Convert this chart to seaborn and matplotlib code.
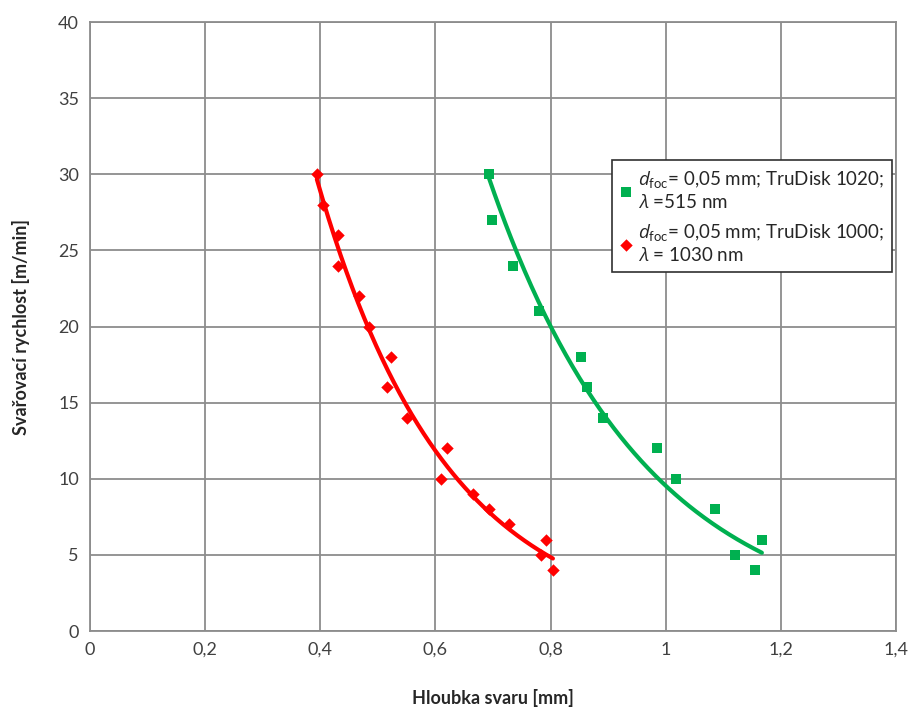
import numpy as np
import pandas as pd
import matplotlib
matplotlib.use('Agg')
import matplotlib.pyplot as plt
import seaborn as sns

# data
red_depth = [0.394, 0.405, 0.431, 0.431, 0.467, 0.485, 0.523, 0.516, 0.551,
             0.620, 0.610, 0.665, 0.693, 0.728, 0.792, 0.783, 0.804]
red_speed = [30, 28, 26, 24, 22, 20, 18, 16, 14, 12, 10, 9, 8, 7, 6, 5, 4]

green_depth = [0.693, 0.698, 0.734, 0.779, 0.852, 0.863, 0.891, 0.985,
               1.018, 1.086, 1.120, 1.167, 1.155]
green_speed = [30, 27, 24, 21, 18, 16, 14, 12, 10, 8, 5, 6, 4]

green_label = '$d_{\\rm foc}$= 0,05 mm; TruDisk 1020;\n$\\mathit{λ}$ =515 nm'
red_label = '$d_{\\rm foc}$= 0,05 mm; TruDisk 1000;\n$\\mathit{λ}$ = 1030 nm'

x_ticks = [0, 0.2, 0.4, 0.6, 0.8, 1.0, 1.2, 1.4]
x_ticklabels = ['0', '0,2', '0,4', '0,6', '0,8', '1', '1,2', '1,4']
y_ticks = [0, 5, 10, 15, 20, 25, 30, 35, 40]

sns.set_style('white')
plt.rcParams['font.family'] = ['Lato', 'DejaVu Sans']
plt.rcParams['mathtext.fontset'] = 'custom'
plt.rcParams['mathtext.rm'] = 'Lato'
plt.rcParams['mathtext.it'] = 'Open Sans:italic'

fig = plt.figure(figsize=(9.13, 7.11), dpi=100)
ax = fig.add_axes([0.0986, 0.1125, 0.8828, 0.8565])

green = '#00B050'
red = '#FF0000'

# exponential trend lines (like Excel)
def exp_trend(xs, ys):
    b, a = np.polyfit(xs, np.log(ys), 1)
    xx = np.linspace(min(xs), max(xs), 200)
    return pd.DataFrame({'x': xx, 'y': np.exp(a) * np.exp(b * xx)})

gfit = exp_trend(green_depth, green_speed)
rfit = exp_trend(red_depth, red_speed)
sns.lineplot(data=gfit, x='x', y='y', color=green, lw=3, ax=ax, legend=False)
sns.lineplot(data=rfit, x='x', y='y', color=red, lw=3, ax=ax, legend=False)

sns.scatterplot(x=green_depth, y=green_speed, marker='s', s=45, color=green,
                edgecolor=green, linewidth=0, ax=ax, label=green_label, zorder=3)
sns.scatterplot(x=red_depth, y=red_speed, marker='D', s=40, color=red,
                edgecolor=red, linewidth=0, ax=ax, label=red_label, zorder=3)

ax.set_xlim(0, 1.4)
ax.set_ylim(0, 40)
ax.set_xticks(x_ticks)
ax.set_xticklabels(x_ticklabels)
ax.set_yticks(y_ticks)
ax.tick_params(length=0, labelsize=13, colors='#404040', pad=8)
ax.grid(True, color='#8c8c8c', lw=1.3)
for sp in ax.spines.values():
    sp.set_color('#8c8c8c')
    sp.set_linewidth(1.3)

ax.set_xlabel('Hloubka svaru [mm]', fontsize=13, fontweight='bold', labelpad=22)
ax.set_ylabel('Svařovací rychlost [m/min]', fontsize=13, fontweight='bold', labelpad=20)

leg = ax.legend(loc='upper left', bbox_to_anchor=(0.648, 0.773), borderaxespad=0,
                fancybox=False, framealpha=1, edgecolor='#303030', fontsize=13.5,
                handlelength=0.6, handletextpad=0.3, borderpad=0.45, labelspacing=0.6)
leg.get_frame().set_linewidth(1.2)

fig.savefig('out.png', dpi=100)
